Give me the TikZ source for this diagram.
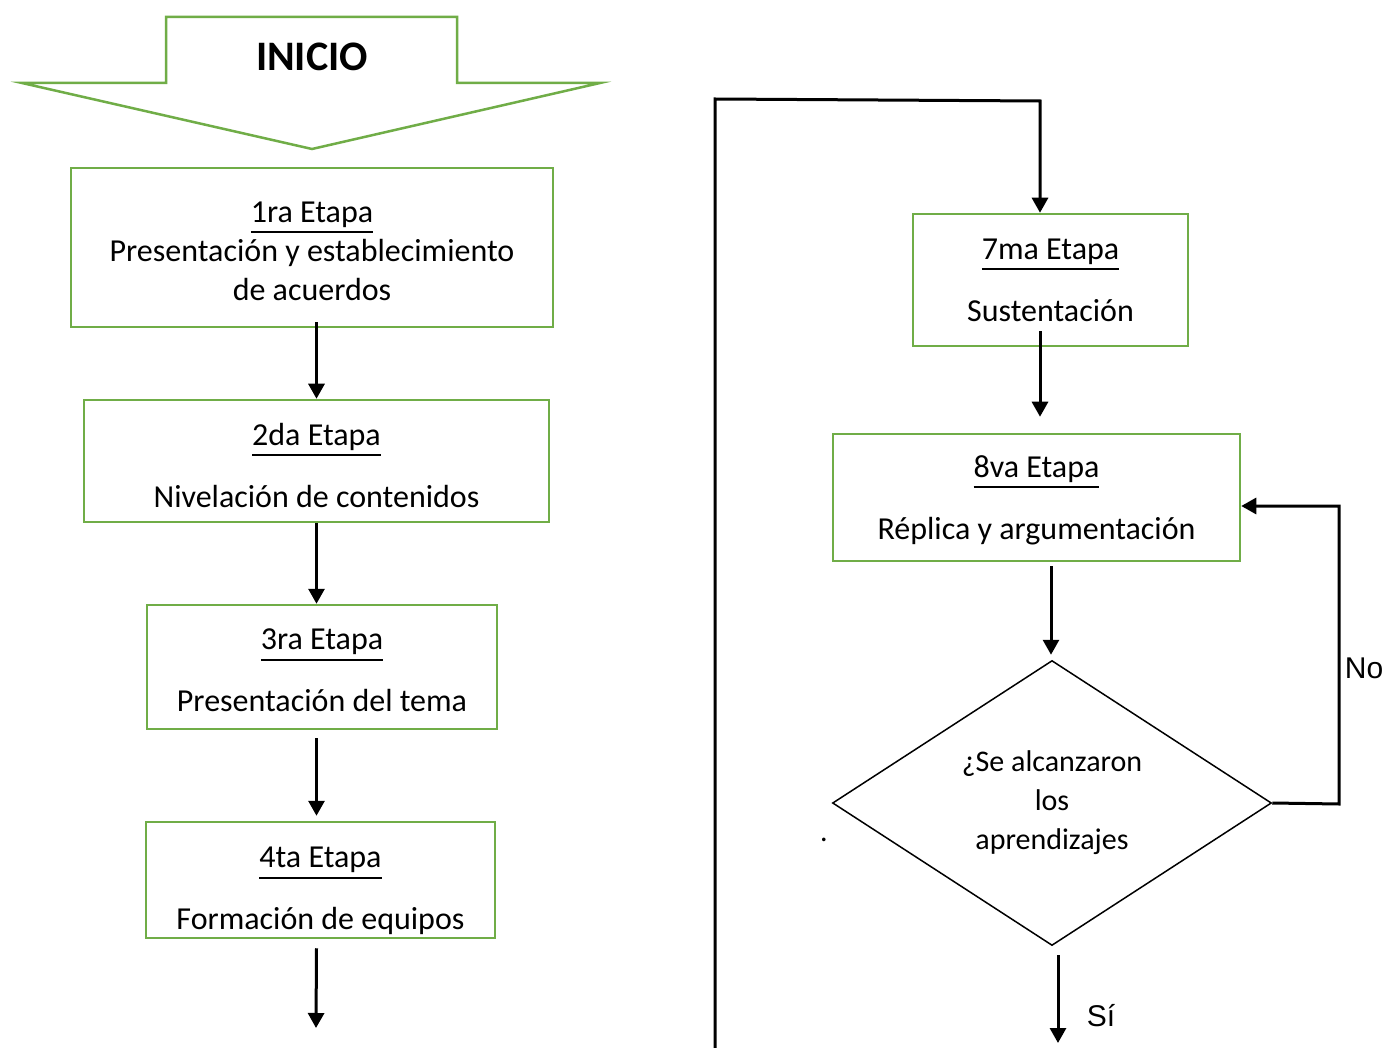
\documentclass[tikz,border=0pt]{standalone}
\usepackage{fontspec}
\setmainfont{Carlito}
\newfontfamily\arialf{Liberation Sans}
\newcommand\etapaul[1]{\leavevmode\vtop{\hbox{#1}\kern3.5pt\hrule height 2pt}}
\usetikzlibrary{arrows.meta,shapes.geometric,calc}
\definecolor{gr}{HTML}{70AD47}
\begin{document}
\begin{tikzpicture}[x=1pt,y=-1pt,
  stagebox/.style={draw=gr,line width=2.5pt,align=center,inner sep=0pt,
    font=\fontsize{32}{39}\selectfont},
  arr/.style={line width=3pt,-{Triangle[length=15pt,width=16pt]}},
  decision/.style={draw,diamond,line width=1.5pt,inner sep=0pt,align=center,
    font=\fontsize{30}{39}\selectfont},
  lbl/.style={font=\arialf\fontsize{30}{36}\selectfont,inner sep=0pt}]
\useasboundingbox (0,0) rectangle (1387,1048);
\fill[white] (0,0) rectangle (1387,1048);

% INICIO arrow shape
\draw[gr,line width=2.5pt,line join=miter] (166,17) -- (457,17) -- (457,83) -- (600,83)
  -- (312,149) -- (22,83) -- (166,83) -- cycle;
\node[font=\bfseries\fontsize{42}{48}\selectfont,inner sep=0pt] (inicio) at (312,57) {INICIO};

% left column
\node[stagebox,minimum width=482pt,minimum height=159pt] (b1) at (312,247.5)
  {\rule{0pt}{28pt}\etapaul{1ra Etapa}\\Presentación y establecimiento\\de acuerdos};
\node[stagebox,minimum width=465pt,minimum height=122pt] (b2) at (316.5,461)
  {\rule{0pt}{31pt}\etapaul{2da Etapa}\\[23pt]Nivelación de contenidos};
\node[stagebox,minimum width=350pt,minimum height=124pt] (b3) at (322,667)
  {\rule{0pt}{28pt}\etapaul{3ra Etapa}\\[23pt]Presentación del tema};
\node[stagebox,minimum width=349pt,minimum height=116pt] (b4) at (320.5,880)
  {\rule{0pt}{43pt}\etapaul{4ta Etapa}\\[23pt]Formación de equipos};

\coordinate (e4) at (316,1028);
\draw[arr] ($(b1.south -| b2.north)+(0,-6)$) -- (b2.north);
\draw[arr] (b2.south) -- (b2.south |- b3.north);
\draw[arr] ($(b3.south -| b2.south)+(0,8)$) -- ($(b2.south |- b4.north)+(0,-5)$);
\draw[arr] ($(b4.south -| b2.south)+(0,9)$) -- (e4);

% right column
\node[stagebox,minimum width=275pt,minimum height=132pt] (b7) at (1050.5,280)
  {\etapaul{7ma Etapa}\\[23pt]Sustentación};
\node[stagebox,minimum width=407pt,minimum height=127pt] (b8) at (1036.5,497.5)
  {\rule{0pt}{28pt}\etapaul{8va Etapa}\\[23pt]Réplica y argumentación};
\node[decision,minimum width=439pt,minimum height=285pt] (d) at (1052,803)
  {¿Se alcanzaron\\los\\aprendizajes};

\coordinate (lb) at (715,1050);
\coordinate (lt) at (715,99);
\coordinate (rt) at (1040,101);
\draw[arr,line join=miter] (lb) -- (lt) -- (rt) -- (rt |- b7.north);
\draw[arr] ($(rt |- b7.south)+(0,-16)$) -- ($(rt |- b8.north)+(0,-16)$);
\draw[arr] ($(b8.south -| 1051,0)+(0,4)$) -- ($(d.north -| 1051,0)+(0,-5)$);

\coordinate (nr) at (1339,804);
\coordinate (nt) at (1339,506);
\draw[arr,line join=miter] (d.east) -- (nr) -- (nt) -- (nt -| b8.east);
\node[lbl] (no) at (1364,668) {No};

\coordinate (ss) at (1058,955);
\coordinate (se) at (1058,1043);
\draw[arr] (ss) -- (se);
\node[lbl] (si) at (1101,1016) {Sí};

\node[font=\fontsize{30}{34}\selectfont,inner sep=0pt] (dot) at (824,840) {.};
\end{tikzpicture}
\end{document}
